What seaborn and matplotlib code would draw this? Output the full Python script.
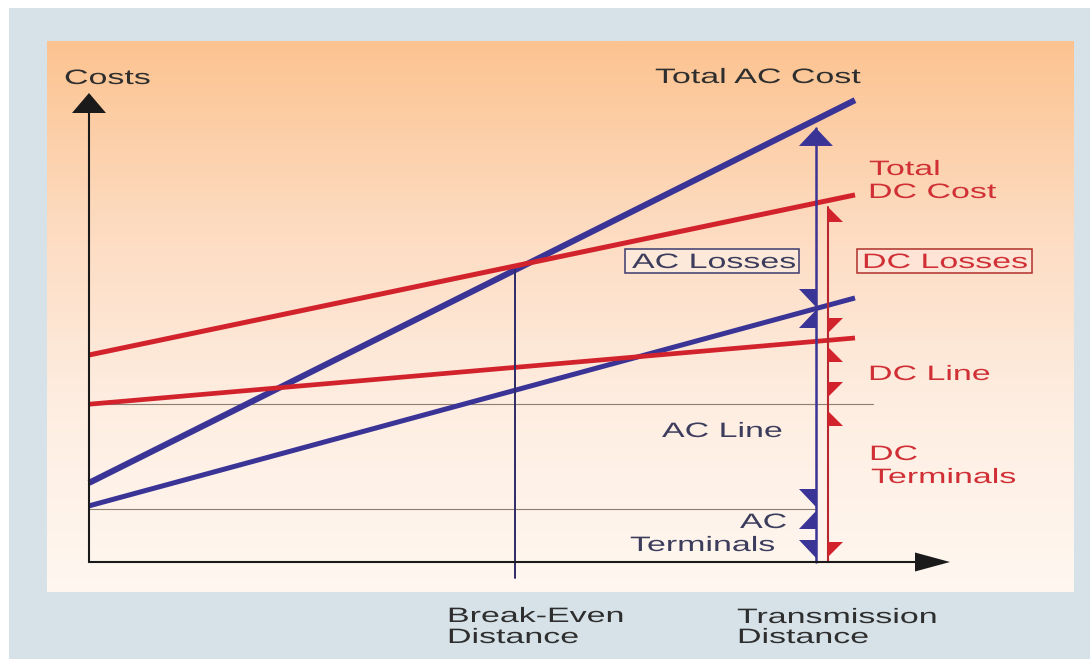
import numpy as np
import pandas as pd
import matplotlib
matplotlib.use("Agg")
import matplotlib.pyplot as plt
import matplotlib.patheffects as pe
from matplotlib.colors import LinearSegmentedColormap
from matplotlib.patches import Polygon, Rectangle
from matplotlib.transforms import Affine2D
import seaborn as sns


# transmission distance (arbitrary units) and the cost curves
distance = [0.0, 10.0]
total_ac_cost = [1.72, 10.04]
ac_line_cost = [1.22, 5.74]
total_dc_cost = [4.50, 7.98]
dc_line_cost = [3.43, 4.87]

ac_terminals = 1.15
dc_terminals = 3.43
break_even = 5.56
x_ac_bar = 9.49
x_dc_bar = 9.65

BLUE = "#3a3496"
RED = "#d2232d"
DARK = "#2e2e2e"
AC_TXT = "#3c3c5c"
DC_TXT = "#d03035"

# pixels per data unit, origin of the plot at pixel (89, 562)
PX_X = 76.6
PX_Y = 46.0


def px_x(px):
    return (px - 89) / PX_X


def px_y(py):
    return (562 - py) / PX_Y


class Stretch(pe.AbstractPathEffect):
    """draws text wider than the font, as in the original graphic"""

    def __init__(self, sx=1.63):
        super().__init__()
        self.sx = sx

    def draw_path(self, renderer, gc, tpath, affine, rgbFace=None):
        renderer.draw_path(gc, tpath, Affine2D().scale(self.sx, 1) + affine, rgbFace)


def label(ax, px, py, s, color=DARK):
    ax.text(px_x(px), px_y(py), s, ha="left", va="baseline", color=color,
            fontsize=15, path_effects=[Stretch()], zorder=6)


def head(ax, x, y, direction, color, length, half, side=0):
    """filled arrow head with tip at (x, y); length/half in pixels.
    side: 0 full head, -1 left half, +1 right half"""
    if direction == "right":
        b = x - length / PX_X
        h = half / PX_Y
        pts = [(x, y), (b, y + h), (b, y - h)]
    else:
        sgn = 1 if direction == "up" else -1
        b = y - sgn * length / PX_Y
        w = half / PX_X
        if side == 0:
            pts = [(x, y), (x - w, b), (x + w, b)]
        else:
            pts = [(x, y), (x, b), (x + side * w, b)]
    ax.add_patch(Polygon(pts, closed=True, facecolor=color, lw=0, zorder=5))


sns.set_theme(style="white")
plt.rcParams["font.family"] = ["Liberation Sans", "DejaVu Sans"]

fig = plt.figure(figsize=(10.9, 6.59), dpi=100)
fig.patch.set_facecolor("#d6e2e8")
ax = fig.add_axes([0, 0, 1, 1])

# white margins of the scanned page
fig.patches.append(Rectangle((0, 1 - 8 / 659), 1, 8 / 659, transform=fig.transFigure,
                             facecolor="white", lw=0))
fig.patches.append(Rectangle((0, 0), 9 / 1090, 1, transform=fig.transFigure,
                             facecolor="white", lw=0))

# orange gradient panel
cmap = LinearSegmentedColormap.from_list("panel", ["#fcc390", "#fddbc0", "#feeee2", "#fff7f0"])
grad = np.linspace(0, 1, 256).reshape(-1, 1)
ax.imshow(grad, cmap=cmap, aspect="auto", origin="upper", zorder=0,
          extent=[px_x(47), px_x(1074), px_y(592), px_y(42)])

# terminal cost levels
ax.plot([0, px_x(873)], [dc_terminals, dc_terminals], color="#8c7f72", lw=0.8, zorder=1)
ax.plot([0, x_ac_bar], [ac_terminals, ac_terminals], color="#8c7f72", lw=0.8, zorder=1)

# cost curves
curves = {
    "Total AC Cost": (total_ac_cost, BLUE, 4.4),
    "AC Line": (ac_line_cost, BLUE, 3.6),
    "Total DC Cost": (total_dc_cost, RED, 3.6),
    "DC Line": (dc_line_cost, RED, 3.4),
}
for name, (vals, col, lw) in curves.items():
    df = pd.DataFrame({"distance": distance, "cost": vals})
    sns.lineplot(data=df, x="distance", y="cost", color=col, lw=lw, ax=ax,
                 solid_capstyle="butt", zorder=2)

# break-even distance marker
be_top = np.interp(break_even, distance, total_ac_cost)
ax.plot([break_even, break_even], [px_y(578), be_top], color="#2e2a6a", lw=1.4, zorder=3)

# cost breakdown bars at the transmission distance
ac_levels = [np.interp(x_ac_bar, distance, total_ac_cost),
             np.interp(x_ac_bar, distance, ac_line_cost), ac_terminals, 0.0]
dc_levels = [np.interp(x_dc_bar, distance, total_dc_cost),
             np.interp(x_dc_bar, distance, dc_line_cost), dc_terminals, 0.0]
ac_gaps = [0.18, 0.03, 0.04, 0.09]
dc_gaps = [0.15, 0.15, 0.15, 0.11]

ax.plot([x_ac_bar, x_ac_bar], [0, ac_levels[0] - ac_gaps[0]], color=BLUE, lw=1.8, zorder=3)
ax.plot([x_dc_bar, x_dc_bar], [0, dc_levels[0] - dc_gaps[0]], color="#b8262f", lw=1.5, zorder=3)

for i in range(3):
    top = ac_levels[i] - ac_gaps[i]
    bot = ac_levels[i + 1] + ac_gaps[i + 1]
    head(ax, x_ac_bar, top, "up", BLUE, 18, 17, side=0 if i == 0 else -1)
    head(ax, x_ac_bar, bot, "down", BLUE, 18, 17, side=-1)

    top = dc_levels[i] - dc_gaps[i]
    bot = dc_levels[i + 1] + dc_gaps[i + 1]
    head(ax, x_dc_bar, top, "up", RED, 15, 15, side=1)
    head(ax, x_dc_bar, bot, "down", RED, 15, 15, side=1)

# axes with arrow heads
ax.plot([0, 0], [0, px_y(110)], color="#1a1a1a", lw=1.5, zorder=4)
ax.plot([0, px_x(930)], [0, 0], color="#1a1a1a", lw=1.5, zorder=4)
head(ax, 0, px_y(93), "up", "#1a1a1a", 20, 17)
head(ax, px_x(950), 0, "right", "#1a1a1a", 35, 9.5)

# boxed loss labels
ax.add_patch(Rectangle((px_x(625), px_y(273)), (799 - 625) / PX_X, 24 / PX_Y,
                       facecolor="#fde9da", edgecolor="#3c3a6e", lw=1.1, zorder=4))
ax.add_patch(Rectangle((px_x(857), px_y(273)), (1032 - 857) / PX_X, 24 / PX_Y,
                       facecolor="#fde4d6", edgecolor="#b0302a", lw=1.1, zorder=4))

label(ax, 64, 84, "Costs")
label(ax, 655, 83, "Total AC Cost")
label(ax, 869, 175, "Total", DC_TXT)
label(ax, 868, 198, "DC Cost", DC_TXT)
label(ax, 632, 268, "AC Losses", AC_TXT)
label(ax, 862, 268, "DC Losses", DC_TXT)
label(ax, 868, 380, "DC Line", DC_TXT)
label(ax, 662, 437, "AC Line", AC_TXT)
label(ax, 869, 460, "DC", DC_TXT)
label(ax, 871, 483, "Terminals", DC_TXT)
label(ax, 740, 528, "AC", AC_TXT)
label(ax, 630, 551, "Terminals", AC_TXT)
label(ax, 447, 622, "Break-Even")
label(ax, 447, 643, "Distance")
label(ax, 737, 623, "Transmission")
label(ax, 737, 643, "Distance")

ax.set_xlim(px_x(0), px_x(1090))
ax.set_ylim(px_y(659), px_y(0))
ax.axis("off")

fig.savefig("out.png", dpi=100, facecolor=fig.get_facecolor())
